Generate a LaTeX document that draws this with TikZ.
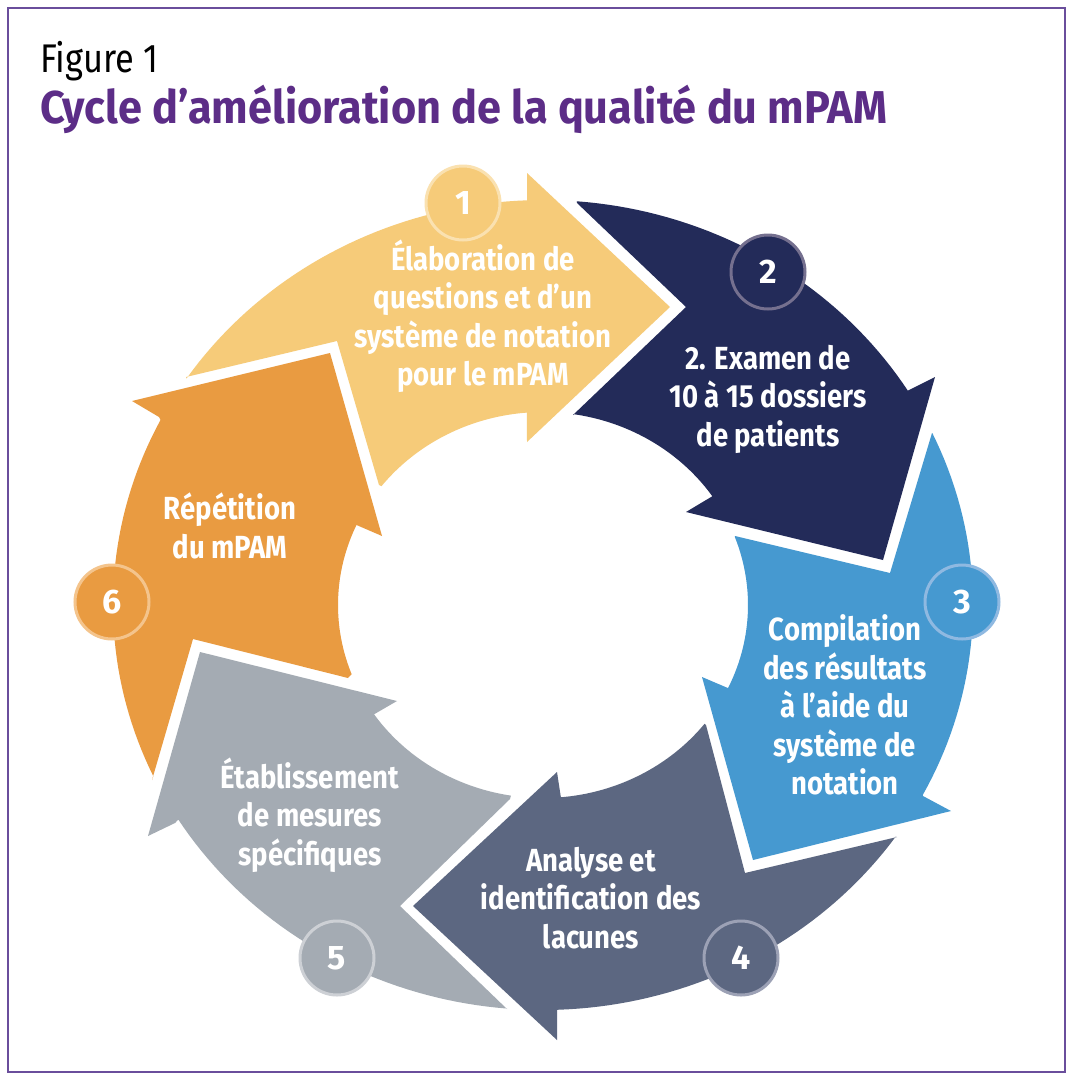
\documentclass[tikz,border=0pt]{standalone}
\usepackage{fontspec}
\setmainfont{Fira Sans}
\newfontfamily\lblfont[FakeStretch=0.86]{Fira Sans}
\newfontfamily\titlefont[FakeStretch=0.94]{Fira Sans}
\newfontfamily\figfont[FakeStretch=0.86]{Fira Sans}
\newfontfamily\numfont{Fira Sans}
\definecolor{cyel}{HTML}{F6CB79}
\definecolor{cnavy}{HTML}{232B59}
\definecolor{cblue}{HTML}{4699D0}
\definecolor{cslate}{HTML}{5C6781}
\definecolor{cgray}{HTML}{A4ABB3}
\definecolor{corange}{HTML}{E99B41}
\definecolor{ryel}{HTML}{FAE1B0}
\definecolor{rnavy}{HTML}{75708F}
\definecolor{rblue}{HTML}{8FB9E1}
\definecolor{rslate}{HTML}{9CA1B5}
\definecolor{rgray}{HTML}{CDD0D5}
\definecolor{rorange}{HTML}{F4C48C}
\definecolor{cpurple}{HTML}{5C2D87}
\definecolor{cborder}{HTML}{6A4E9C}
\begin{document}
\begin{tikzpicture}[x=1pt,y=-1pt,
  lbl/.style={text=white, align=center, inner sep=0pt,
    font=\lblfont\bfseries\fontsize{32}{38.5}\selectfont},
  numc/.style={circle, minimum size=74pt, inner sep=0pt, line width=3pt,
    text=white, font=\numfont\bfseries\fontsize{34}{34}\selectfont},
  outerarc/.style={domain=#1, samples=40, variable=\t},
]
\useasboundingbox (0,0) rectangle (1074,1080);
\fill[white] (0,0) rectangle (1074,1080);
\draw[cborder, line width=2pt] (8,8) rectangle (1065,1072);

\node[anchor=base west, inner sep=0pt, font=\figfont\fontsize{40}{40}\selectfont] (fig) at (40,72) {Figure 1};
\node[anchor=base west, inner sep=0pt, text=cpurple, font=\titlefont\bfseries\fontsize{46}{46}\selectfont] (title) at (40,123) {Cycle d’amélioration de la qualité du mPAM};

% arrow 1 (yellow)
\fill[cyel] (186,377) -- (337,341) -- (379,485)
  -- plot[outerarc=142:94.5] ({543+205*cos(\t)},{605-193*sin(\t)})
  -- (527,442) -- (670,307) -- (527,173) -- (527,202)
  -- plot[outerarc=92.1:146] ({543+430*cos(\t)},{605-405*sin(\t)}) -- cycle;
% arrow 2 (navy)
\fill[cnavy] (577,203) -- (686,307) -- (573,415)
  -- plot[outerarc=81.5:34.3] ({543+205*cos(\t)},{605-193*sin(\t)})
  -- (686,512) -- (883,560) -- (935,377) -- (907,391)
  -- plot[outerarc=32:85.5] ({543+430*cos(\t)},{605-405*sin(\t)}) -- cycle;
% arrow 3 (blue)
\fill[cblue] (932,433) -- (890,573) -- (735,536)
  -- plot[outerarc=20.6:-25.5] ({543+205*cos(\t)},{605-193*sin(\t)})
  -- (702,677) -- (753,860) -- (951,811) -- (923,796)
  -- plot[outerarc=-28:25.1] ({543+430*cos(\t)},{605-405*sin(\t)}) -- cycle;
% arrow 4 (slate)
\fill[cslate] (897,837) -- (745,873) -- (706,725)
  -- plot[outerarc=-38:-85] ({543+205*cos(\t)},{605-193*sin(\t)})
  -- (557,772) -- (413,906) -- (557,1040) -- (557,1010)
  -- plot[outerarc=-88:-34.9] ({543+430*cos(\t)},{605-405*sin(\t)}) -- cycle;
% arrow 5 (gray)
\fill[cgray] (507,1009) -- (400,906) -- (510,799)
  -- plot[outerarc=-99:-145.5] ({543+205*cos(\t)},{605-193*sin(\t)})
  -- (397,701) -- (200,652) -- (148,836) -- (175,823)
  -- plot[outerarc=-148:-94.8] ({543+430*cos(\t)},{605-405*sin(\t)}) -- cycle;
% arrow 6 (orange)
\fill[corange] (152,780) -- (193,639) -- (348,678)
  -- plot[outerarc=-159:-204.5] ({543+205*cos(\t)},{605-193*sin(\t)})
  -- (382,536) -- (330,353) -- (132,401) -- (159,417)
  -- plot[outerarc=152.8:205] ({543+430*cos(\t)},{605-405*sin(\t)}) -- cycle;

% number circles
\node[numc, fill=cyel, draw=ryel] (n1) at (463,203) {1};
\node[numc, fill=cnavy, draw=rnavy] (n2) at (768,272) {2};
\node[numc, fill=cblue, draw=rblue] (n3) at (962,602) {3};
\node[numc, fill=cslate, draw=rslate] (n4) at (741,958) {4};
\node[numc, fill=cgray, draw=rgray] (n5) at (337,958) {5};
\node[numc, fill=corange, draw=rorange] (n6) at (112,602) {6};

% labels
\node[lbl] (t1) at (483,316) {Élaboration de\\questions et d’un\\système de notation\\pour le mPAM};
\node[lbl] (t2) at (768,399) {2. Examen de\\10 à 15 dossiers\\de patients};
\node[lbl] (t3) at (845,705) {Compilation\\des résultats\\à l’aide du\\système de\\notation};
\node[lbl] (t4) at (591,898) {Analyse et\\identification des\\lacunes};
\node[lbl] (t5) at (310,815) {Établissement\\de mesures\\spécifiques};
\node[lbl] (t6) at (230,526) {Répétition\\du mPAM};
\end{tikzpicture}
\end{document}
